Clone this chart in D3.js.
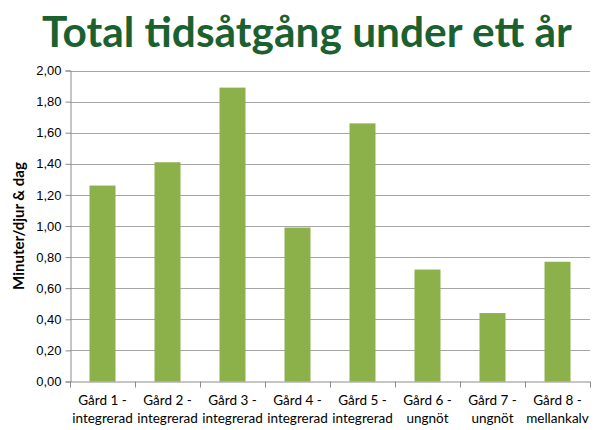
<!DOCTYPE html>
<html>
<head>
<meta charset="utf-8">
<script src="https://cdn.jsdelivr.net/npm/d3@7"></script>
<style>
  body { margin: 0; background: #fff; }
  svg { display: block; font-family: Lato, "Open Sans", "DejaVu Sans", sans-serif; }
</style>
</head>
<body>
<svg id="chart" width="616" height="430"></svg>
<script>
const farms = ["Gård 1 -", "Gård 2 -", "Gård 3 -", "Gård 4 -", "Gård 5 -", "Gård 6 -", "Gård 7 -", "Gård 8 -"];
const farmTypes = ["integrerad", "integrerad", "integrerad", "integrerad", "integrerad", "ungnöt", "ungnöt", "mellankalv"];
const minutes = [1.26, 1.41, 1.89, 0.99, 1.66, 0.72, 0.44, 0.77];
const yTicks = [0, 0.2, 0.4, 0.6, 0.8, 1.0, 1.2, 1.4, 1.6, 1.8, 2.0];

const svg = d3.select("#chart");
const plot = { left: 70, right: 590, top: 70.5, bottom: 381.5 };
const fmt = v => v.toFixed(2).replace(".", ",");

const x = d3.scaleBand()
    .domain(d3.range(farms.length))
    .range([plot.left, plot.right])
    .paddingInner(0.6)
    .paddingOuter(0.3);

const y = d3.scaleLinear()
    .domain([0, 2])
    .range([plot.bottom, plot.top]);

// title, sized so it spans the same width as the reference
const title = svg.append("text")
    .attr("x", 307)
    .attr("y", 47)
    .attr("text-anchor", "middle")
    .attr("fill", "#1b6130")
    .attr("font-weight", "bold")
    .attr("font-size", 40)
    .text("Total tidsåtgång under ett år");
const tw = title.node().getComputedTextLength();
title.attr("font-size", Math.min(44, 40 * 530 / tw));

// gridlines
svg.append("g")
    .selectAll("line")
    .data(yTicks.slice(1))
    .join("line")
    .attr("x1", plot.left)
    .attr("x2", plot.right)
    .attr("y1", d => Math.round(y(d)) + 0.5)
    .attr("y2", d => Math.round(y(d)) + 0.5)
    .attr("stroke", "#a6a6a6")
    .attr("stroke-width", 1);

// bars
svg.append("g")
    .selectAll("rect")
    .data(minutes)
    .join("rect")
    .attr("x", (d, i) => x(i))
    .attr("y", d => y(d))
    .attr("width", x.bandwidth())
    .attr("height", d => y(0) - y(d))
    .attr("fill", "#8db14a");

// y axis
const yAxis = svg.append("g")
    .attr("transform", `translate(${plot.left + 0.5},0)`)
    .call(d3.axisLeft(y).tickValues(yTicks).tickFormat(fmt).tickSize(5).tickPadding(4));
yAxis.select(".domain").attr("stroke", "#8c8c8c");
yAxis.selectAll(".tick line").attr("stroke", "#8c8c8c");
yAxis.selectAll(".tick text")
    .attr("font-size", 13)
    .attr("fill", "#000");

// x axis with ticks at category borders
const step = x.step();
const xg = svg.append("g");
xg.append("line")
    .attr("x1", plot.left).attr("x2", plot.right)
    .attr("y1", plot.bottom + 0.5).attr("y2", plot.bottom + 0.5)
    .attr("stroke", "#8c8c8c");
xg.selectAll(".border")
    .data(d3.range(farms.length + 1))
    .join("line")
    .attr("x1", i => plot.left + i * step + 0.5)
    .attr("x2", i => plot.left + i * step + 0.5)
    .attr("y1", plot.bottom)
    .attr("y2", plot.bottom + 6)
    .attr("stroke", "#8c8c8c");

const labels = xg.selectAll(".lbl")
    .data(farms)
    .join("text")
    .attr("text-anchor", "middle")
    .attr("font-size", 13.5)
    .attr("fill", "#000");
labels.append("tspan")
    .attr("x", (d, i) => x(i) + x.bandwidth() / 2)
    .attr("y", 405)
    .text(d => d);
labels.append("tspan")
    .attr("x", (d, i) => x(i) + x.bandwidth() / 2)
    .attr("y", 423)
    .text((d, i) => farmTypes[i]);

// y axis title
svg.append("text")
    .attr("transform", "translate(24,226) rotate(-90)")
    .attr("text-anchor", "middle")
    .attr("font-size", 15)
    .attr("font-weight", "bold")
    .attr("fill", "#000")
    .text("Minuter/djur & dag");
</script>
</body>
</html>
